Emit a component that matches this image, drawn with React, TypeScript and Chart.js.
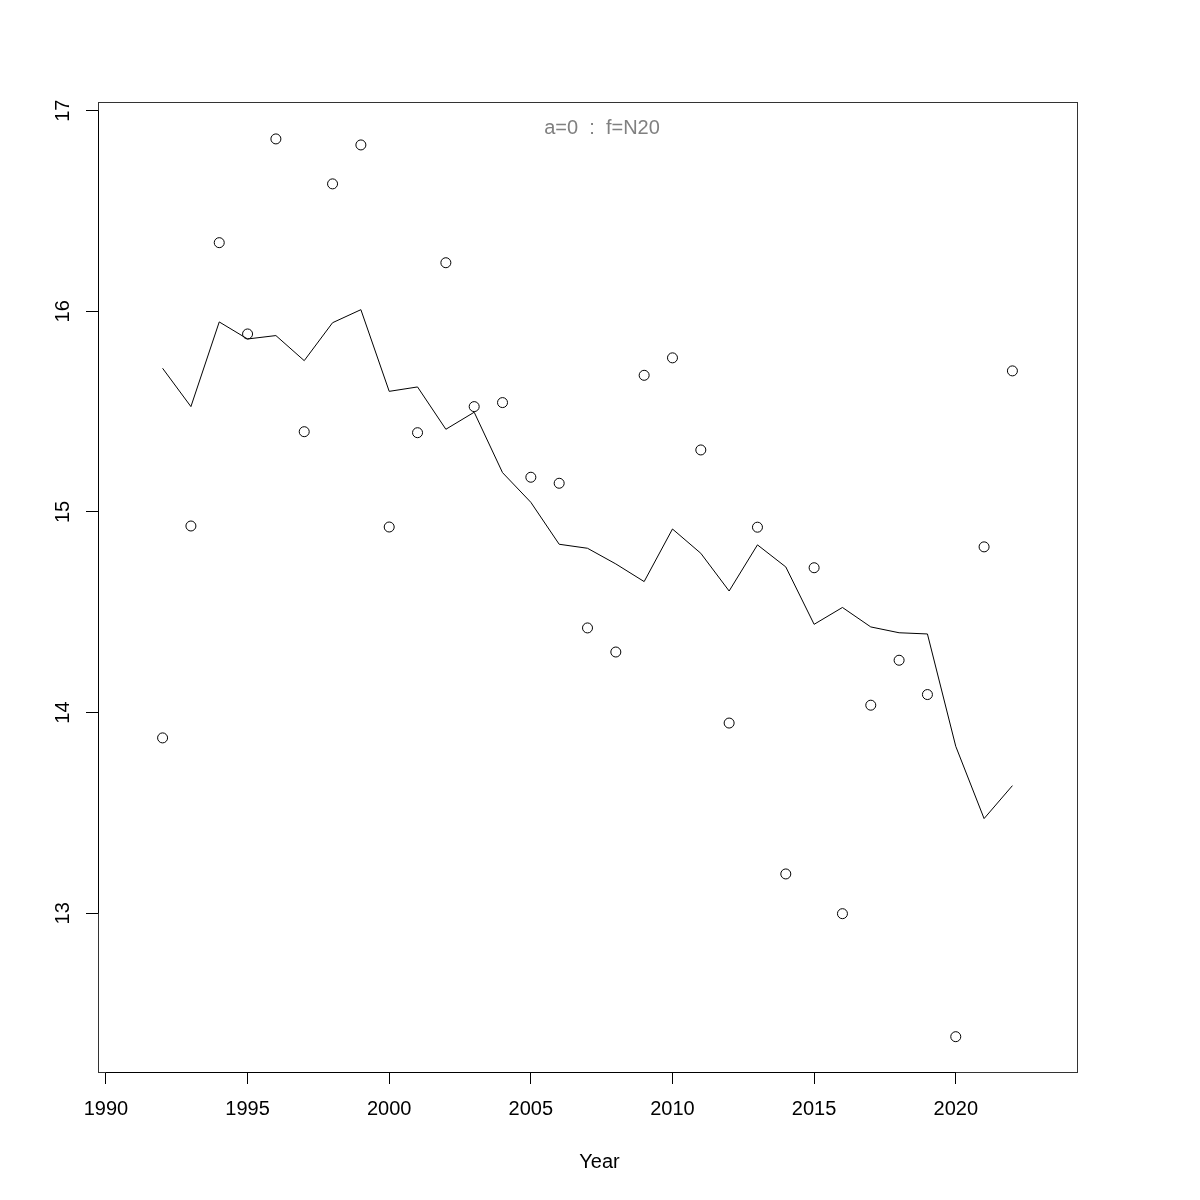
import React, { useEffect, useRef } from "react";
import { Chart, registerables } from "chart.js";

Chart.register(...registerables);

const years = [1992, 1993, 1994, 1995, 1996, 1997, 1998, 1999, 2000, 2001, 2002, 2003, 2004, 2005, 2006, 2007, 2008, 2009, 2010, 2011, 2012, 2013, 2014, 2015, 2016, 2017, 2018, 2019, 2020, 2021, 2022];
const observed = [13.874, 14.93, 16.342, 15.887, 16.859, 15.4, 16.635, 16.829, 14.925, 15.395, 16.242, 15.525, 15.545, 15.173, 15.143, 14.422, 14.302, 15.681, 15.768, 15.309, 13.948, 14.924, 13.196, 14.722, 12.998, 14.037, 14.261, 14.09, 12.385, 14.826, 15.703];
const fitted = [15.716, 15.525, 15.947, 15.862, 15.879, 15.754, 15.943, 16.008, 15.601, 15.623, 15.412, 15.497, 15.196, 15.048, 14.839, 14.819, 14.741, 14.653, 14.915, 14.794, 14.606, 14.836, 14.726, 14.44, 14.524, 14.427, 14.398, 14.392, 13.832, 13.472, 13.636];
const xTicks = [1990, 1995, 2000, 2005, 2010, 2015, 2020];
const yTicks = [13, 14, 15, 16, 17];
const xTitle = "Year";
const annotation = "a=0  :  f=N20";

const FONT = '"Liberation Sans", Arial, Helvetica, sans-serif';

export default function App() {
  const ref = useRef<HTMLCanvasElement | null>(null);

  useEffect(() => {
    if (!ref.current) return;
    const rPlot = {
      id: "rPlot",
      afterDraw(chart: any) {
        const ctx = chart.ctx;
        const a = chart.chartArea;
        const xs = chart.scales.x;
        const ys = chart.scales.y;
        ctx.save();
        // box
        ctx.strokeStyle = "#333333";
        ctx.lineWidth = 1;
        ctx.strokeRect(Math.round(a.left) + 0.5, Math.round(a.top) + 0.5, Math.round(a.right - a.left), Math.round(a.bottom - a.top));
        // axis lines over tick range
        ctx.strokeStyle = "#000000";
        ctx.beginPath();
        ctx.moveTo(xs.getPixelForValue(xTicks[0]), Math.round(a.bottom) + 0.5);
        ctx.lineTo(xs.getPixelForValue(xTicks[xTicks.length - 1]), Math.round(a.bottom) + 0.5);
        ctx.moveTo(Math.round(a.left) + 0.5, ys.getPixelForValue(yTicks[0]));
        ctx.lineTo(Math.round(a.left) + 0.5, ys.getPixelForValue(yTicks[yTicks.length - 1]));
        ctx.stroke();
        // tick labels
        ctx.fillStyle = "#000000";
        ctx.font = "20px " + FONT;
        ctx.textAlign = "center";
        ctx.textBaseline = "middle";
        xTicks.forEach((v) => {
          ctx.fillText(String(v), xs.getPixelForValue(v), a.bottom + 37);
        });
        yTicks.forEach((v) => {
          ctx.save();
          ctx.translate(a.left - 35, ys.getPixelForValue(v));
          ctx.rotate(-Math.PI / 2);
          ctx.fillText(String(v), 0, 0);
          ctx.restore();
        });
        // axis title
        ctx.fillText(xTitle, (a.left + a.right) / 2 + 12, a.bottom + 90);
        // annotation
        ctx.fillStyle = "#808080";
        ctx.fillText(annotation, 602, 128);
        ctx.restore();
      },
    };

    const chart = new Chart(ref.current, {
      type: "scatter",
      data: {
        datasets: [
          {
            label: "fitted",
            data: years.map((y, i) => ({ x: y, y: fitted[i] })),
            showLine: true,
            borderColor: "#000000",
            borderWidth: 1,
            pointRadius: 0,
            tension: 0,
          },
          {
            label: "observed",
            data: years.map((y, i) => ({ x: y, y: observed[i] })),
            showLine: false,
            borderColor: "#000000",
            backgroundColor: "rgba(0,0,0,0)",
            borderWidth: 1,
            pointRadius: 5,
            pointStyle: "circle",
          },
        ],
      },
      options: {
        animation: false,
        responsive: true,
        maintainAspectRatio: false,
        layout: { padding: { left: 0, top: 102, right: 123, bottom: 0 } },
        plugins: {
          legend: { display: false },
          tooltip: { enabled: false },
        },
        scales: {
          x: {
            type: "linear",
            min: 1989.72,
            max: 2024.28,
            afterBuildTicks: (s: any) => {
              s.ticks = xTicks.map((v) => ({ value: v }));
            },
            afterFit: (s: any) => {
              s.height = 128;
            },
            ticks: { display: false },
            grid: { drawOnChartArea: false, drawTicks: true, tickLength: 12, color: "#000000", lineWidth: 1 },
            border: { display: false },
          },
          y: {
            type: "linear",
            min: 12.209,
            max: 17.043,
            afterBuildTicks: (s: any) => {
              s.ticks = yTicks.map((v) => ({ value: v }));
            },
            afterFit: (s: any) => {
              s.width = 98;
            },
            ticks: { display: false },
            grid: { drawOnChartArea: false, drawTicks: true, tickLength: 12, color: "#000000", lineWidth: 1 },
            border: { display: false },
          },
        },
      },
      plugins: [rPlot],
    });
    return () => chart.destroy();
  }, []);

  return (
    <div style={{ position: "absolute", left: 0, top: 0, width: 1200, height: 1200, background: "#ffffff" }}>
      <canvas ref={ref} />
    </div>
  );
}
